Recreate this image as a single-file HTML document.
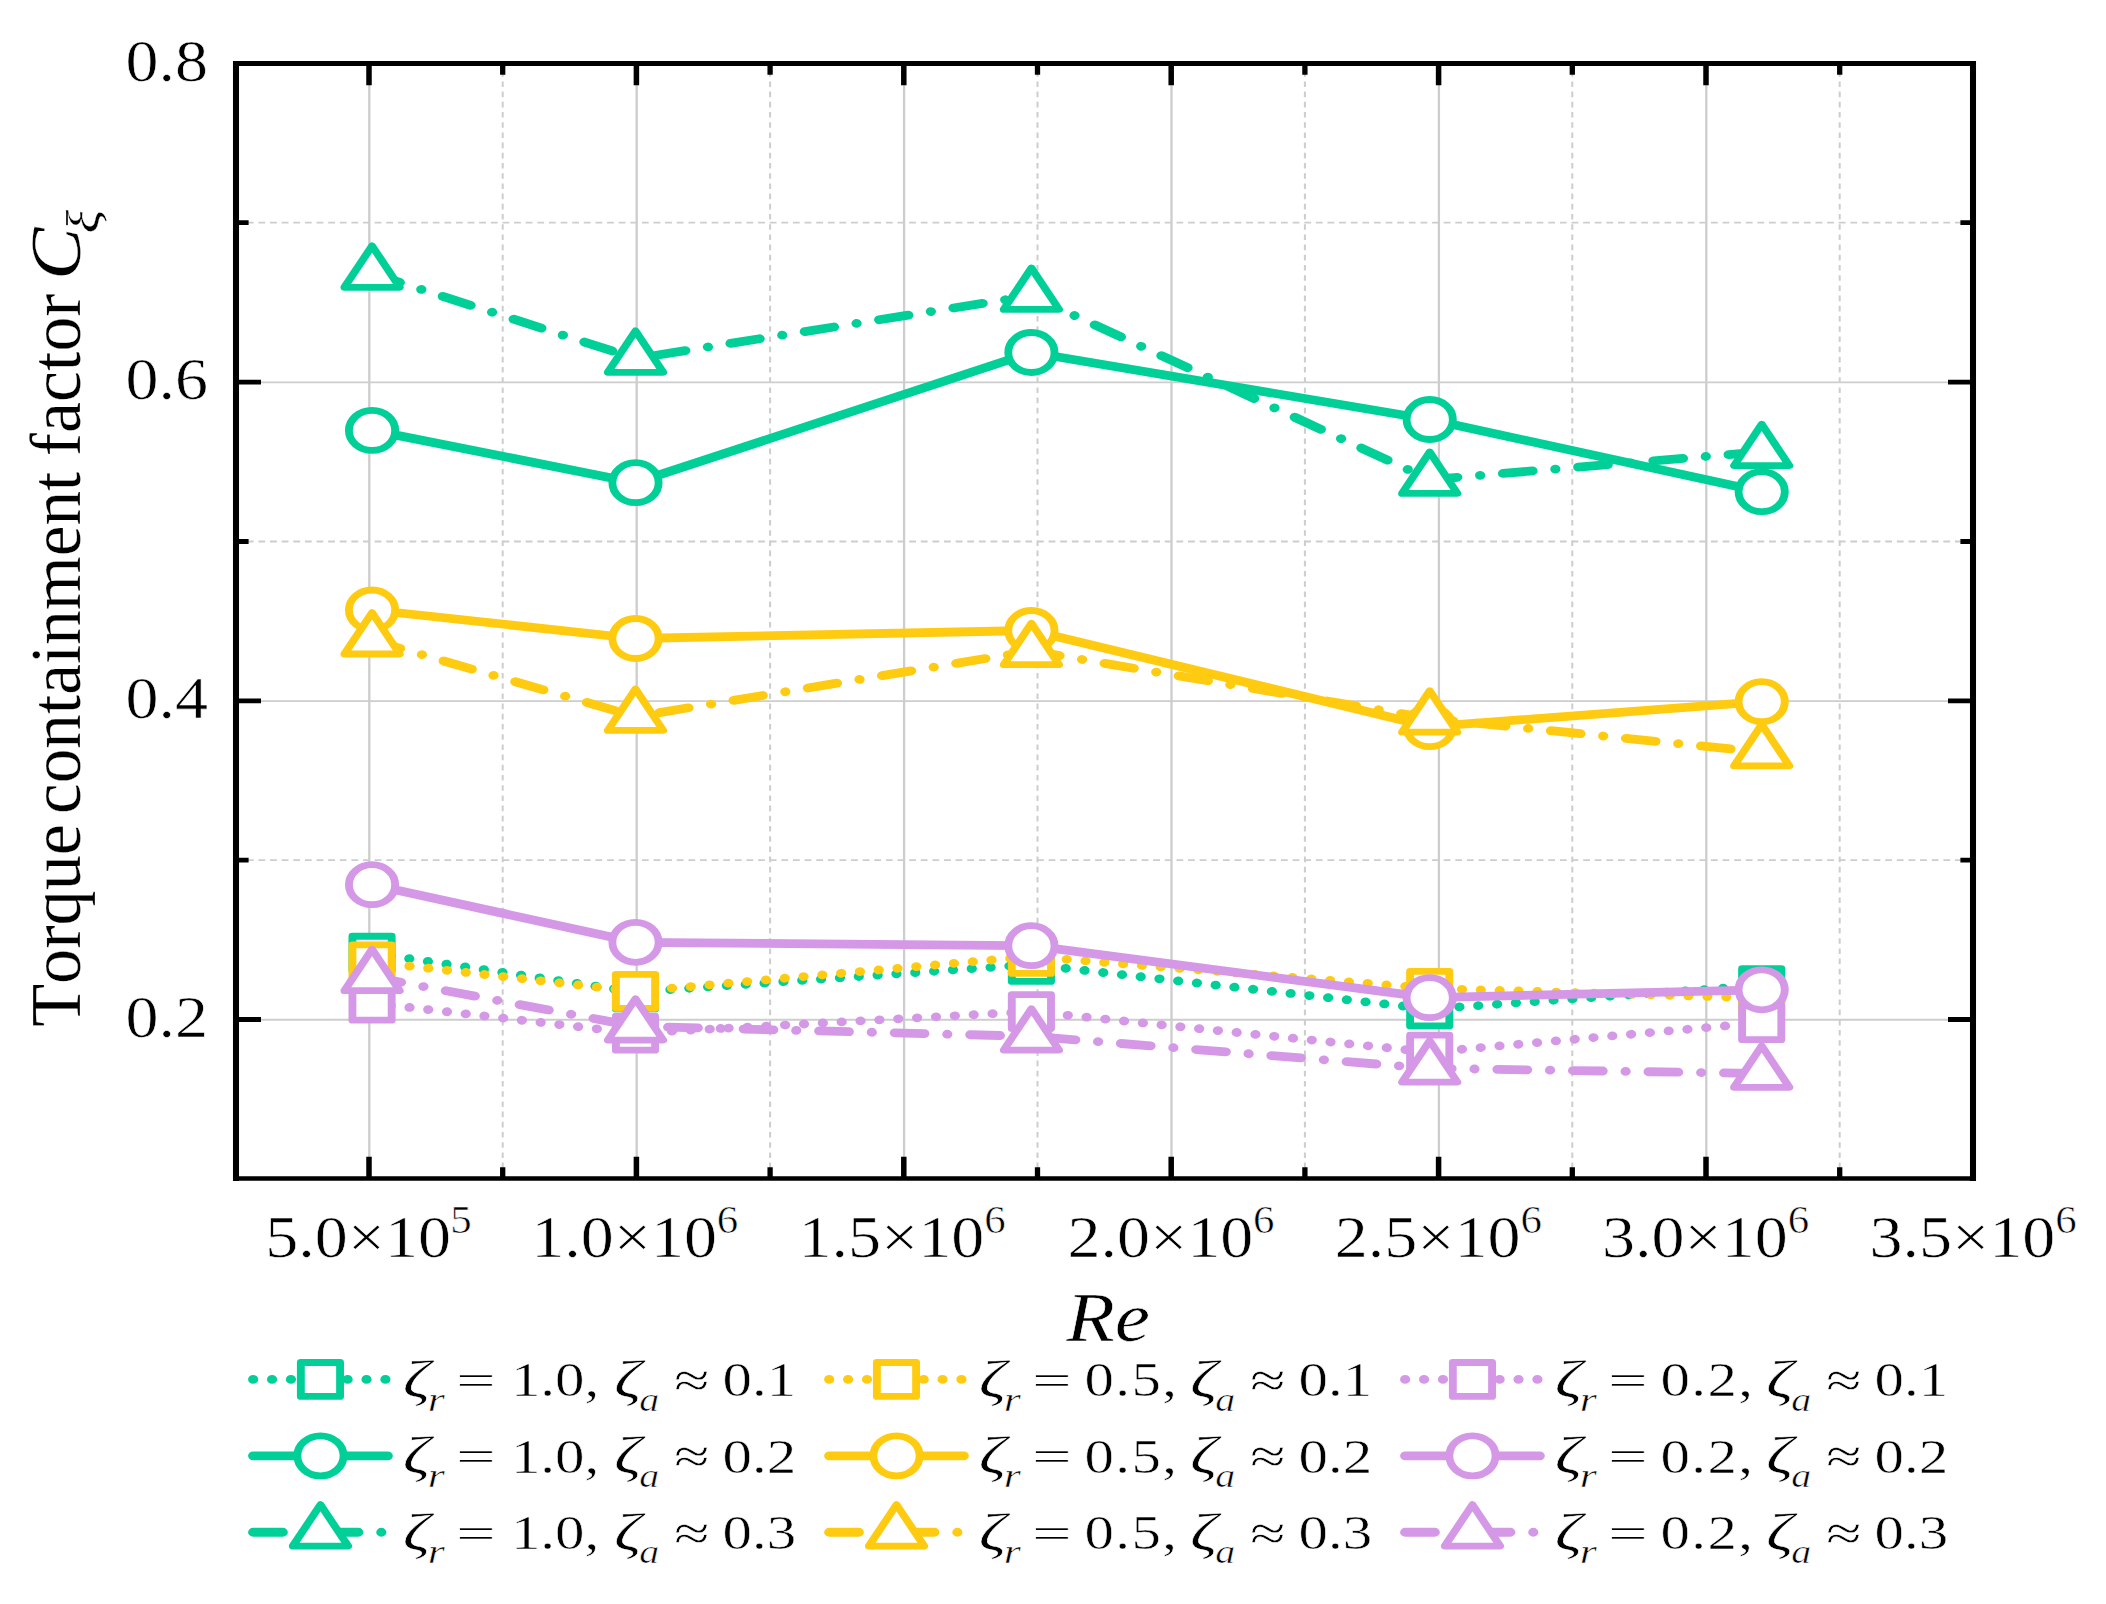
<!DOCTYPE html>
<html lang="en">
<head>
<meta charset="utf-8">
<title>Torque containment factor vs Re</title>
<style>
html,body{margin:0;padding:0;background:#fff;}
body{width:2106px;height:1604px;overflow:hidden;}
svg{display:block;}
text{font-kerning:none;stroke:#fff;stroke-width:0.6px;vector-effect:non-scaling-stroke;}
text.yt{stroke-width:0.25px;}
</style>
</head>
<body>
<svg width="2106" height="1604" viewBox="0 0 2106 1604" font-family='"Liberation Serif", serif' fill="#000">
<rect width="2106" height="1604" fill="#fff"/>
<g stroke="#cdcdcd" fill="none">
<line x1="369.30" y1="63.5" x2="369.30" y2="1178.5" stroke-width="2.3"/>
<line x1="636.70" y1="63.5" x2="636.70" y2="1178.5" stroke-width="2.3"/>
<line x1="904.10" y1="63.5" x2="904.10" y2="1178.5" stroke-width="2.3"/>
<line x1="1171.50" y1="63.5" x2="1171.50" y2="1178.5" stroke-width="2.3"/>
<line x1="1438.90" y1="63.5" x2="1438.90" y2="1178.5" stroke-width="2.3"/>
<line x1="1706.30" y1="63.5" x2="1706.30" y2="1178.5" stroke-width="2.3"/>
<line x1="236.0" y1="382.40" x2="1973.0" y2="382.40" stroke-width="1.9"/>
<line x1="236.0" y1="701.10" x2="1973.0" y2="701.10" stroke-width="1.9"/>
<line x1="236.0" y1="1019.70" x2="1973.0" y2="1019.70" stroke-width="1.9"/>
<line x1="502.70" y1="63.5" x2="502.70" y2="1178.5" stroke-width="2.0" stroke-dasharray="5.6 4.6" stroke-dashoffset="2.5"/>
<line x1="770.10" y1="63.5" x2="770.10" y2="1178.5" stroke-width="2.0" stroke-dasharray="5.6 4.6" stroke-dashoffset="2.5"/>
<line x1="1037.50" y1="63.5" x2="1037.50" y2="1178.5" stroke-width="2.0" stroke-dasharray="5.6 4.6" stroke-dashoffset="2.5"/>
<line x1="1304.90" y1="63.5" x2="1304.90" y2="1178.5" stroke-width="2.0" stroke-dasharray="5.6 4.6" stroke-dashoffset="2.5"/>
<line x1="1572.30" y1="63.5" x2="1572.30" y2="1178.5" stroke-width="2.0" stroke-dasharray="5.6 4.6" stroke-dashoffset="2.5"/>
<line x1="1839.70" y1="63.5" x2="1839.70" y2="1178.5" stroke-width="2.0" stroke-dasharray="5.6 4.6" stroke-dashoffset="2.5"/>
<line x1="236.0" y1="222.70" x2="1973.0" y2="222.70" stroke-width="1.8" stroke-dasharray="6.8 4.82" stroke-dashoffset="0.8"/>
<line x1="236.0" y1="541.50" x2="1973.0" y2="541.50" stroke-width="1.8" stroke-dasharray="6.8 4.82" stroke-dashoffset="0.8"/>
<line x1="236.0" y1="860.20" x2="1973.0" y2="860.20" stroke-width="1.8" stroke-dasharray="6.8 4.82" stroke-dashoffset="0.8"/>
</g>
<g transform="scale(1.157,1)">
<path d="M321.56 953.20L549.27 992.00L891.44 964.50L1235.70 1009.00L1522.64 985.50" stroke="#00d098" stroke-width="8.8" fill="none" stroke-linecap="round" stroke-linejoin="round" stroke-dasharray="0.01 16.32"/>
<g fill="#fff" stroke-width="6.8" stroke-linejoin="round">
<rect x="304.61" y="936.25" width="33.90" height="33.90" stroke="#00d098"/>
<rect x="532.32" y="975.05" width="33.90" height="33.90" stroke="#00d098"/>
<rect x="874.49" y="947.55" width="33.90" height="33.90" stroke="#00d098"/>
<rect x="1218.75" y="992.05" width="33.90" height="33.90" stroke="#00d098"/>
<rect x="1505.69" y="968.55" width="33.90" height="33.90" stroke="#00d098"/>
</g>
<path d="M321.56 430.40L549.27 482.70L891.44 352.50L1235.70 419.50L1522.64 491.70" stroke="#00d098" stroke-width="8.8" fill="none" stroke-linecap="round" stroke-linejoin="round"/>
<g fill="#fff" stroke-width="6.8" stroke-linejoin="round">
<circle cx="321.56" cy="430.40" r="20.0" stroke="#00d098"/>
<circle cx="549.27" cy="482.70" r="20.0" stroke="#00d098"/>
<circle cx="891.44" cy="352.50" r="20.0" stroke="#00d098"/>
<circle cx="1235.70" cy="419.50" r="20.0" stroke="#00d098"/>
<circle cx="1522.64" cy="491.70" r="20.0" stroke="#00d098"/>
</g>
<path d="M321.56 273.50L549.27 358.50L891.44 295.60L1235.70 479.60L1522.64 451.80" stroke="#00d098" stroke-width="8.8" fill="none" stroke-linecap="round" stroke-linejoin="round" stroke-dasharray="25.6 19.85 0.01 19.85"/>
<g fill="#fff" stroke-width="6.8" stroke-linejoin="round">
<path d="M321.56 245.90L345.47 287.30L297.66 287.30Z" stroke="#00d098"/>
<path d="M549.27 330.90L573.17 372.30L525.36 372.30Z" stroke="#00d098"/>
<path d="M891.44 268.00L915.35 309.40L867.54 309.40Z" stroke="#00d098"/>
<path d="M1235.70 452.00L1259.60 493.40L1211.79 493.40Z" stroke="#00d098"/>
<path d="M1522.64 424.20L1546.55 465.60L1498.74 465.60Z" stroke="#00d098"/>
</g>
<path d="M321.56 961.90L549.27 991.40L891.44 956.50L1235.70 988.40L1522.64 998.00" stroke="#fecb10" stroke-width="8.8" fill="none" stroke-linecap="round" stroke-linejoin="round" stroke-dasharray="0.01 16.32"/>
<g fill="#fff" stroke-width="6.8" stroke-linejoin="round">
<rect x="304.61" y="944.95" width="33.90" height="33.90" stroke="#fecb10"/>
<rect x="532.32" y="974.45" width="33.90" height="33.90" stroke="#fecb10"/>
<rect x="874.49" y="939.55" width="33.90" height="33.90" stroke="#fecb10"/>
<rect x="1218.75" y="971.45" width="33.90" height="33.90" stroke="#fecb10"/>
<rect x="1505.69" y="981.05" width="33.90" height="33.90" stroke="#fecb10"/>
</g>
<path d="M321.56 610.00L549.27 638.50L891.44 630.50L1235.70 726.70L1522.64 701.70" stroke="#fecb10" stroke-width="8.8" fill="none" stroke-linecap="round" stroke-linejoin="round"/>
<g fill="#fff" stroke-width="6.8" stroke-linejoin="round">
<circle cx="321.56" cy="610.00" r="20.0" stroke="#fecb10"/>
<circle cx="549.27" cy="638.50" r="20.0" stroke="#fecb10"/>
<circle cx="891.44" cy="630.50" r="20.0" stroke="#fecb10"/>
<circle cx="1235.70" cy="726.70" r="20.0" stroke="#fecb10"/>
<circle cx="1522.64" cy="701.70" r="20.0" stroke="#fecb10"/>
</g>
<path d="M321.56 640.20L549.27 716.60L891.44 650.90L1235.70 718.40L1522.64 752.10" stroke="#fecb10" stroke-width="8.8" fill="none" stroke-linecap="round" stroke-linejoin="round" stroke-dasharray="25.6 19.85 0.01 19.85"/>
<g fill="#fff" stroke-width="6.8" stroke-linejoin="round">
<path d="M321.56 612.60L345.47 654.00L297.66 654.00Z" stroke="#fecb10"/>
<path d="M549.27 689.00L573.17 730.40L525.36 730.40Z" stroke="#fecb10"/>
<path d="M891.44 623.30L915.35 664.70L867.54 664.70Z" stroke="#fecb10"/>
<path d="M1235.70 690.80L1259.60 732.20L1211.79 732.20Z" stroke="#fecb10"/>
<path d="M1522.64 724.50L1546.55 765.90L1498.74 765.90Z" stroke="#fecb10"/>
</g>
<path d="M321.56 1003.20L549.27 1033.20L891.44 1011.60L1235.70 1052.10L1522.64 1022.70" stroke="#d498e7" stroke-width="8.8" fill="none" stroke-linecap="round" stroke-linejoin="round" stroke-dasharray="0.01 16.32"/>
<g fill="#fff" stroke-width="6.8" stroke-linejoin="round">
<rect x="304.61" y="986.25" width="33.90" height="33.90" stroke="#d498e7"/>
<rect x="532.32" y="1016.25" width="33.90" height="33.90" stroke="#d498e7"/>
<rect x="874.49" y="994.65" width="33.90" height="33.90" stroke="#d498e7"/>
<rect x="1218.75" y="1035.15" width="33.90" height="33.90" stroke="#d498e7"/>
<rect x="1505.69" y="1005.75" width="33.90" height="33.90" stroke="#d498e7"/>
</g>
<path d="M321.56 884.70L549.27 942.30L891.44 945.70L1235.70 997.70L1522.64 989.80" stroke="#d498e7" stroke-width="8.8" fill="none" stroke-linecap="round" stroke-linejoin="round"/>
<g fill="#fff" stroke-width="6.8" stroke-linejoin="round">
<circle cx="321.56" cy="884.70" r="20.0" stroke="#d498e7"/>
<circle cx="549.27" cy="942.30" r="20.0" stroke="#d498e7"/>
<circle cx="891.44" cy="945.70" r="20.0" stroke="#d498e7"/>
<circle cx="1235.70" cy="997.70" r="20.0" stroke="#d498e7"/>
<circle cx="1522.64" cy="989.80" r="20.0" stroke="#d498e7"/>
</g>
<path d="M321.56 976.90L549.27 1026.30L891.44 1036.30L1235.70 1068.30L1522.64 1073.50" stroke="#d498e7" stroke-width="8.8" fill="none" stroke-linecap="round" stroke-linejoin="round" stroke-dasharray="25.6 19.85 0.01 19.85"/>
<g fill="#fff" stroke-width="6.8" stroke-linejoin="round">
<path d="M321.56 949.30L345.47 990.70L297.66 990.70Z" stroke="#d498e7"/>
<path d="M549.27 998.70L573.17 1040.10L525.36 1040.10Z" stroke="#d498e7"/>
<path d="M891.44 1008.70L915.35 1050.10L867.54 1050.10Z" stroke="#d498e7"/>
<path d="M1235.70 1040.70L1259.60 1082.10L1211.79 1082.10Z" stroke="#d498e7"/>
<path d="M1522.64 1045.90L1546.55 1087.30L1498.74 1087.30Z" stroke="#d498e7"/>
</g>
<path d="M218.80 1379.45L335.13 1379.45" stroke="#00d098" stroke-width="8.8" fill="none" stroke-linecap="round" stroke-linejoin="round" stroke-dasharray="0.01 16.32"/>
<g fill="#fff" stroke-width="6.8" stroke-linejoin="round"><rect x="260.02" y="1362.50" width="33.90" height="33.90" stroke="#00d098"/></g>
<path d="M218.80 1455.85L335.13 1455.85" stroke="#00d098" stroke-width="8.8" fill="none" stroke-linecap="round" stroke-linejoin="round"/>
<g fill="#fff" stroke-width="6.8" stroke-linejoin="round"><circle cx="276.97" cy="1455.85" r="20.0" stroke="#00d098"/></g>
<path d="M218.80 1532.25L335.13 1532.25" stroke="#00d098" stroke-width="8.8" fill="none" stroke-linecap="round" stroke-linejoin="round" stroke-dasharray="25.6 19.85 0.01 19.85"/>
<g fill="#fff" stroke-width="6.8" stroke-linejoin="round"><path d="M276.97 1504.65L300.87 1546.05L253.06 1546.05Z" stroke="#00d098"/></g>
<path d="M716.68 1379.45L833.02 1379.45" stroke="#fecb10" stroke-width="8.8" fill="none" stroke-linecap="round" stroke-linejoin="round" stroke-dasharray="0.01 16.32"/>
<g fill="#fff" stroke-width="6.8" stroke-linejoin="round"><rect x="757.90" y="1362.50" width="33.90" height="33.90" stroke="#fecb10"/></g>
<path d="M716.68 1455.85L833.02 1455.85" stroke="#fecb10" stroke-width="8.8" fill="none" stroke-linecap="round" stroke-linejoin="round"/>
<g fill="#fff" stroke-width="6.8" stroke-linejoin="round"><circle cx="774.85" cy="1455.85" r="20.0" stroke="#fecb10"/></g>
<path d="M716.68 1532.25L833.02 1532.25" stroke="#fecb10" stroke-width="8.8" fill="none" stroke-linecap="round" stroke-linejoin="round" stroke-dasharray="25.6 19.85 0.01 19.85"/>
<g fill="#fff" stroke-width="6.8" stroke-linejoin="round"><path d="M774.85 1504.65L798.75 1546.05L750.95 1546.05Z" stroke="#fecb10"/></g>
<path d="M1214.48 1379.45L1330.81 1379.45" stroke="#d498e7" stroke-width="8.8" fill="none" stroke-linecap="round" stroke-linejoin="round" stroke-dasharray="0.01 16.32"/>
<g fill="#fff" stroke-width="6.8" stroke-linejoin="round"><rect x="1255.69" y="1362.50" width="33.90" height="33.90" stroke="#d498e7"/></g>
<path d="M1214.48 1455.85L1330.81 1455.85" stroke="#d498e7" stroke-width="8.8" fill="none" stroke-linecap="round" stroke-linejoin="round"/>
<g fill="#fff" stroke-width="6.8" stroke-linejoin="round"><circle cx="1272.64" cy="1455.85" r="20.0" stroke="#d498e7"/></g>
<path d="M1214.48 1532.25L1330.81 1532.25" stroke="#d498e7" stroke-width="8.8" fill="none" stroke-linecap="round" stroke-linejoin="round" stroke-dasharray="25.6 19.85 0.01 19.85"/>
<g fill="#fff" stroke-width="6.8" stroke-linejoin="round"><path d="M1272.64 1504.65L1296.55 1546.05L1248.74 1546.05Z" stroke="#d498e7"/></g>
</g>
<g stroke="#000" fill="none">
<path d="M236.0 61.0V1180.9M1973.0 61.0V1180.9" stroke-width="6.05"/>
<path d="M233.0 63.5H1976.0" stroke-width="5.1"/>
<path d="M233.0 1178.5H1976.0" stroke-width="4.7"/>
<path d="M369.00 63.5v21.8M369.00 1178.5v-21.8M636.40 63.5v21.8M636.40 1178.5v-21.8M903.80 63.5v21.8M903.80 1178.5v-21.8M1171.20 63.5v21.8M1171.20 1178.5v-21.8M1438.60 63.5v21.8M1438.60 1178.5v-21.8M1706.00 63.5v21.8M1706.00 1178.5v-21.8" stroke-width="5.5"/>
<path d="M502.70 63.5v11.2M502.70 1178.5v-11.2M770.10 63.5v11.2M770.10 1178.5v-11.2M1037.50 63.5v11.2M1037.50 1178.5v-11.2M1304.90 63.5v11.2M1304.90 1178.5v-11.2M1572.30 63.5v11.2M1572.30 1178.5v-11.2M1839.70 63.5v11.2M1839.70 1178.5v-11.2" stroke-width="5.3"/>
<path d="M236.0 382.20h25.0M1973.0 382.20h-25.0M236.0 700.90h25.0M1973.0 700.90h-25.0M236.0 1019.50h25.0M1973.0 1019.50h-25.0M236.0 222.70h12.6M1973.0 222.70h-12.6M236.0 541.50h12.6M1973.0 541.50h-12.6M236.0 860.20h12.6M1973.0 860.20h-12.6" stroke-width="4.8"/>
</g>
<text transform="translate(208.10,80.60) scale(1.1000,1)" font-size="60.0" text-anchor="end">0.8</text>
<text transform="translate(208.10,399.30) scale(1.1000,1)" font-size="60.0" text-anchor="end">0.6</text>
<text transform="translate(208.10,718.00) scale(1.1000,1)" font-size="60.0" text-anchor="end">0.4</text>
<text transform="translate(208.10,1036.60) scale(1.1000,1)" font-size="60.0" text-anchor="end">0.2</text>
<text transform="translate(265.29,1256.5) scale(1.1,1)" font-size="60.0">5.0×10</text>
<text transform="translate(450.30,1232.7) scale(1.1,1)" font-size="39.0">5</text>
<text transform="translate(531.18,1256.5) scale(1.1,1)" font-size="60.0">1.0×10</text>
<text transform="translate(716.85,1232.7) scale(1.1,1)" font-size="39.0">6</text>
<text transform="translate(798.58,1256.5) scale(1.1,1)" font-size="60.0">1.5×10</text>
<text transform="translate(984.25,1232.7) scale(1.1,1)" font-size="39.0">6</text>
<text transform="translate(1067.43,1256.5) scale(1.1,1)" font-size="60.0">2.0×10</text>
<text transform="translate(1253.10,1232.7) scale(1.1,1)" font-size="39.0">6</text>
<text transform="translate(1334.83,1256.5) scale(1.1,1)" font-size="60.0">2.5×10</text>
<text transform="translate(1520.50,1232.7) scale(1.1,1)" font-size="39.0">6</text>
<text transform="translate(1602.10,1256.5) scale(1.1,1)" font-size="60.0">3.0×10</text>
<text transform="translate(1787.77,1232.7) scale(1.1,1)" font-size="39.0">6</text>
<text transform="translate(1869.50,1256.5) scale(1.1,1)" font-size="60.0">3.5×10</text>
<text transform="translate(2055.17,1232.7) scale(1.1,1)" font-size="39.0">6</text>
<text transform="translate(1066.23,1341.10) scale(1.1326,1)" font-size="70.2" font-style="italic">Re</text>
<text class="yt" transform="translate(79.50,1026.87) scale(1.035,1) rotate(-90) scale(1.0125,1)" font-size="69.4">Torque</text>
<text class="yt" transform="translate(79.50,814.04) scale(1.035,1) rotate(-90) scale(0.9980,1)" font-size="69.4">containment</text>
<text class="yt" transform="translate(79.50,456.15) scale(1.035,1) rotate(-90) scale(1.0053,1)" font-size="69.4">factor</text>
<text class="yt" transform="translate(79.50,279.66) scale(1.035,1) rotate(-90) scale(1.1284,1)" font-size="69.4" font-style="italic">C</text>
<text class="yt" transform="translate(99.00,233.27) scale(1.035,1) rotate(-90) scale(1.2140,1)" font-size="45" font-style="italic">ξ</text>
<text transform="translate(402.70,1396.80) scale(1.3000,1)" font-size="52.6" font-style="italic">ζ</text>
<text transform="translate(427.82,1410.50) scale(1.2884,1)" font-size="34" font-style="italic">r</text>
<text transform="translate(456.10,1393.70) scale(1.4168,0.843)" font-size="49.6">=</text>
<text transform="translate(510.90,1396.30) scale(1.1883,1)" font-size="49.6">1.0,</text>
<text transform="translate(613.90,1396.80) scale(1.3000,1)" font-size="52.6" font-style="italic">ζ</text>
<text transform="translate(639.21,1410.50) scale(1.1762,1)" font-size="34" font-style="italic">a</text>
<text transform="translate(674.10,1396.80) scale(1.3070,1)" font-size="49.6">≈</text>
<text transform="translate(722.56,1396.30) scale(1.1883,1)" font-size="49.6">0.1</text>
<text transform="translate(402.70,1473.20) scale(1.3000,1)" font-size="52.6" font-style="italic">ζ</text>
<text transform="translate(427.82,1486.90) scale(1.2884,1)" font-size="34" font-style="italic">r</text>
<text transform="translate(456.10,1470.10) scale(1.4168,0.843)" font-size="49.6">=</text>
<text transform="translate(510.90,1472.70) scale(1.1883,1)" font-size="49.6">1.0,</text>
<text transform="translate(613.90,1473.20) scale(1.3000,1)" font-size="52.6" font-style="italic">ζ</text>
<text transform="translate(639.21,1486.90) scale(1.1762,1)" font-size="34" font-style="italic">a</text>
<text transform="translate(674.10,1473.20) scale(1.3070,1)" font-size="49.6">≈</text>
<text transform="translate(722.56,1472.70) scale(1.1883,1)" font-size="49.6">0.2</text>
<text transform="translate(402.70,1549.60) scale(1.3000,1)" font-size="52.6" font-style="italic">ζ</text>
<text transform="translate(427.82,1563.30) scale(1.2884,1)" font-size="34" font-style="italic">r</text>
<text transform="translate(456.10,1546.50) scale(1.4168,0.843)" font-size="49.6">=</text>
<text transform="translate(510.90,1549.10) scale(1.1883,1)" font-size="49.6">1.0,</text>
<text transform="translate(613.90,1549.60) scale(1.3000,1)" font-size="52.6" font-style="italic">ζ</text>
<text transform="translate(639.21,1563.30) scale(1.1762,1)" font-size="34" font-style="italic">a</text>
<text transform="translate(674.10,1549.60) scale(1.3070,1)" font-size="49.6">≈</text>
<text transform="translate(722.56,1549.10) scale(1.1883,1)" font-size="49.6">0.3</text>
<text transform="translate(978.70,1396.80) scale(1.3000,1)" font-size="52.6" font-style="italic">ζ</text>
<text transform="translate(1003.82,1410.50) scale(1.2884,1)" font-size="34" font-style="italic">r</text>
<text transform="translate(1032.10,1393.70) scale(1.4168,0.843)" font-size="49.6">=</text>
<text transform="translate(1084.40,1396.30) scale(1.1883,1)" font-size="49.6" letter-spacing="1.2">0.5,</text>
<text transform="translate(1189.90,1396.80) scale(1.3000,1)" font-size="52.6" font-style="italic">ζ</text>
<text transform="translate(1215.21,1410.50) scale(1.1762,1)" font-size="34" font-style="italic">a</text>
<text transform="translate(1250.10,1396.80) scale(1.3070,1)" font-size="49.6">≈</text>
<text transform="translate(1298.56,1396.30) scale(1.1883,1)" font-size="49.6">0.1</text>
<text transform="translate(978.70,1473.20) scale(1.3000,1)" font-size="52.6" font-style="italic">ζ</text>
<text transform="translate(1003.82,1486.90) scale(1.2884,1)" font-size="34" font-style="italic">r</text>
<text transform="translate(1032.10,1470.10) scale(1.4168,0.843)" font-size="49.6">=</text>
<text transform="translate(1084.40,1472.70) scale(1.1883,1)" font-size="49.6" letter-spacing="1.2">0.5,</text>
<text transform="translate(1189.90,1473.20) scale(1.3000,1)" font-size="52.6" font-style="italic">ζ</text>
<text transform="translate(1215.21,1486.90) scale(1.1762,1)" font-size="34" font-style="italic">a</text>
<text transform="translate(1250.10,1473.20) scale(1.3070,1)" font-size="49.6">≈</text>
<text transform="translate(1298.56,1472.70) scale(1.1883,1)" font-size="49.6">0.2</text>
<text transform="translate(978.70,1549.60) scale(1.3000,1)" font-size="52.6" font-style="italic">ζ</text>
<text transform="translate(1003.82,1563.30) scale(1.2884,1)" font-size="34" font-style="italic">r</text>
<text transform="translate(1032.10,1546.50) scale(1.4168,0.843)" font-size="49.6">=</text>
<text transform="translate(1084.40,1549.10) scale(1.1883,1)" font-size="49.6" letter-spacing="1.2">0.5,</text>
<text transform="translate(1189.90,1549.60) scale(1.3000,1)" font-size="52.6" font-style="italic">ζ</text>
<text transform="translate(1215.21,1563.30) scale(1.1762,1)" font-size="34" font-style="italic">a</text>
<text transform="translate(1250.10,1549.60) scale(1.3070,1)" font-size="49.6">≈</text>
<text transform="translate(1298.56,1549.10) scale(1.1883,1)" font-size="49.6">0.3</text>
<text transform="translate(1554.70,1396.80) scale(1.3000,1)" font-size="52.6" font-style="italic">ζ</text>
<text transform="translate(1579.82,1410.50) scale(1.2884,1)" font-size="34" font-style="italic">r</text>
<text transform="translate(1608.10,1393.70) scale(1.4168,0.843)" font-size="49.6">=</text>
<text transform="translate(1660.40,1396.30) scale(1.1883,1)" font-size="49.6" letter-spacing="1.2">0.2,</text>
<text transform="translate(1765.90,1396.80) scale(1.3000,1)" font-size="52.6" font-style="italic">ζ</text>
<text transform="translate(1791.21,1410.50) scale(1.1762,1)" font-size="34" font-style="italic">a</text>
<text transform="translate(1826.10,1396.80) scale(1.3070,1)" font-size="49.6">≈</text>
<text transform="translate(1874.56,1396.30) scale(1.1883,1)" font-size="49.6">0.1</text>
<text transform="translate(1554.70,1473.20) scale(1.3000,1)" font-size="52.6" font-style="italic">ζ</text>
<text transform="translate(1579.82,1486.90) scale(1.2884,1)" font-size="34" font-style="italic">r</text>
<text transform="translate(1608.10,1470.10) scale(1.4168,0.843)" font-size="49.6">=</text>
<text transform="translate(1660.40,1472.70) scale(1.1883,1)" font-size="49.6" letter-spacing="1.2">0.2,</text>
<text transform="translate(1765.90,1473.20) scale(1.3000,1)" font-size="52.6" font-style="italic">ζ</text>
<text transform="translate(1791.21,1486.90) scale(1.1762,1)" font-size="34" font-style="italic">a</text>
<text transform="translate(1826.10,1473.20) scale(1.3070,1)" font-size="49.6">≈</text>
<text transform="translate(1874.56,1472.70) scale(1.1883,1)" font-size="49.6">0.2</text>
<text transform="translate(1554.70,1549.60) scale(1.3000,1)" font-size="52.6" font-style="italic">ζ</text>
<text transform="translate(1579.82,1563.30) scale(1.2884,1)" font-size="34" font-style="italic">r</text>
<text transform="translate(1608.10,1546.50) scale(1.4168,0.843)" font-size="49.6">=</text>
<text transform="translate(1660.40,1549.10) scale(1.1883,1)" font-size="49.6" letter-spacing="1.2">0.2,</text>
<text transform="translate(1765.90,1549.60) scale(1.3000,1)" font-size="52.6" font-style="italic">ζ</text>
<text transform="translate(1791.21,1563.30) scale(1.1762,1)" font-size="34" font-style="italic">a</text>
<text transform="translate(1826.10,1549.60) scale(1.3070,1)" font-size="49.6">≈</text>
<text transform="translate(1874.56,1549.10) scale(1.1883,1)" font-size="49.6">0.3</text>
</svg>
</body>
</html>
